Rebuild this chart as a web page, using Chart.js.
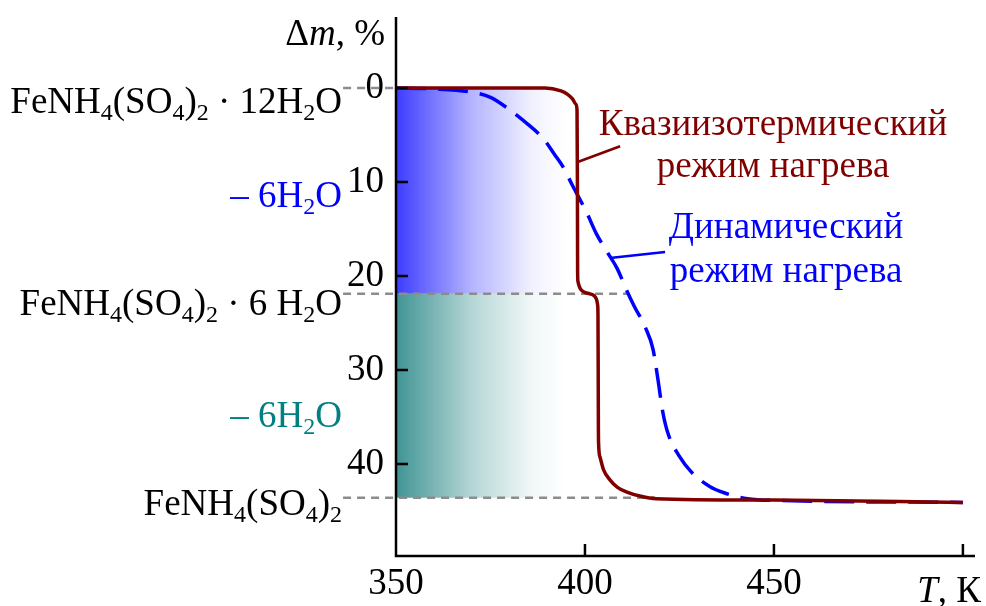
<!DOCTYPE html>
<html>
<head>
<meta charset="utf-8">
<script src="https://cdn.jsdelivr.net/npm/chart.js@4.4.0/dist/chart.umd.min.js"></script>
<style>
  html, body { margin: 0; padding: 0; background: #fff; }
  #wrap { width: 986px; height: 606px; }
</style>
</head>
<body>
<div id="wrap"><canvas id="tg_canvas"></canvas></div>
<script>
// temperature, K / mass loss, %
const tempTicks = [350, 400, 450, 500];
const massTicks = [0, 10, 20, 30, 40];

// quasi-isothermal heating
const quasiT = [350, 370, 389.4, 393.65, 395.4, 396.7, 397.6, 397.9, 398.0, 398.05, 398.15, 398.7, 399.7, 401.3, 402.4, 403.0, 403.35, 403.44, 403.5, 403.55, 403.6, 404.0, 404.9, 406.6, 408.6, 411.1, 414.8, 418.8, 450, 500];
const quasiM = [0, 0, 0, 0.32, 0.68, 1.17, 1.73, 2.34, 10, 19.4, 20.6, 21.3, 21.7, 21.9, 22.1, 22.45, 23.1, 24.1, 30, 36, 37.8, 39.3, 40.6, 41.7, 42.5, 43.0, 43.45, 43.7, 43.85, 44.1];

// dynamic heating
const dynT = [350, 360, 370, 375, 380, 385, 389, 392, 394.2, 396.6, 400.5, 403, 406.1, 408.5, 411, 413, 416, 418, 419.3, 420.6, 422, 425, 428, 433, 437, 443, 452, 500];
const dynM = [0, 0.1, 0.45, 1.0, 2.3, 3.9, 5.4, 7.1, 8.4, 10.3, 13.3, 15.5, 17.6, 19.2, 21.5, 23.2, 25.5, 27.8, 31, 34.5, 36.8, 39.2, 40.8, 42.4, 43.1, 43.7, 43.9, 44.1];

// composition levels (mass loss) and where the guide lines end
const stageLevels = [0, 21.9, 43.6];
const guideStart = 336;
const guideEnd = [350, 411.4, 418.5];
const fadeEnd = [398, 403];

// leader lines to the labels
const quasiLeaderT = [397.9, 409.3];
const quasiLeaderM = [7.9, 6.2];
const dynLeaderT = [406.6, 421.2];
const dynLeaderM = [18.1, 17.45];

const FONT = '"Liberation Serif", "Times New Roman", serif';
const FS = 37;

function pts(xs, ys) {
    return xs.map((x, i) => ({ x: x, y: ys[i] }));
}

function fadeFill(rgb) {
    return function (c) {
        const chart = c.chart;
        const area = chart.chartArea;
        if (!area) return 'rgba(0,0,0,0)';
        const x0 = chart.scales.x.getPixelForValue(350);
        const g = chart.ctx.createLinearGradient(x0, 0, x0 + 170, 0);
        g.addColorStop(0, 'rgba(' + rgb + ',1)');
        g.addColorStop(0.45, 'rgba(' + rgb + ',0.38)');
        g.addColorStop(0.8, 'rgba(' + rgb + ',0.07)');
        g.addColorStop(1, 'rgba(' + rgb + ',0)');
        return g;
    };
}

// text with subscripts / italics: parts = [[text, 'n'|'s'|'i'], ...]
function richText(ctx, parts, x, y, align, color, size) {
    size = size || FS;
    const fontOf = t => (t === 'i' ? 'italic ' : '') + (t === 's' ? Math.round(size * 0.65) : size) + 'px ' + FONT;
    let w = 0;
    parts.forEach(p => { ctx.font = fontOf(p[1]); w += ctx.measureText(p[0]).width; });
    let cx = align === 'right' ? x - w : (align === 'center' ? x - w / 2 : x);
    ctx.fillStyle = color;
    ctx.textAlign = 'left';
    ctx.textBaseline = 'alphabetic';
    parts.forEach(p => {
        ctx.font = fontOf(p[1]);
        ctx.fillText(p[0], cx, p[1] === 's' ? y + size * 0.2 : y);
        cx += ctx.measureText(p[0]).width;
    });
}

const labelsPlugin = {
    id: 'tgLabels',
    afterDraw(chart) {
        const ctx = chart.ctx;
        const xs = chart.scales.x, ys = chart.scales.y;
        const area = chart.chartArea;
        ctx.save();
        // axis lines + inward ticks
        ctx.strokeStyle = '#000';
        ctx.lineWidth = 2.5;
        ctx.beginPath();
        ctx.moveTo(area.left, area.top);
        ctx.lineTo(area.left, area.bottom);
        ctx.lineTo(area.right, area.bottom);
        tempTicks.slice(1).forEach(v => {
            const px = xs.getPixelForValue(v);
            ctx.moveTo(px, area.bottom);
            ctx.lineTo(px, area.bottom - 12);
        });
        massTicks.forEach(v => {
            const py = ys.getPixelForValue(v);
            ctx.moveTo(area.left, py);
            ctx.lineTo(area.left + 12, py);
        });
        ctx.stroke();

        // axis titles
        richText(ctx, [['Δ', 'n'], ['m', 'i'], [', %', 'n']], 385, 45, 'right', '#000');
        richText(ctx, [['T', 'i'], [', К', 'n']], 981, 602, 'right', '#000');

        // compositions
        const lx = 342;
        richText(ctx, [['FeNH', 'n'], ['4', 's'], ['(SO', 'n'], ['4', 's'], [')', 'n'], ['2', 's'], [' · 12H', 'n'], ['2', 's'], ['O', 'n']], lx, 113, 'right', '#000');
        richText(ctx, [['– 6H', 'n'], ['2', 's'], ['O', 'n']], lx, 207, 'right', '#0000ff');
        richText(ctx, [['FeNH', 'n'], ['4', 's'], ['(SO', 'n'], ['4', 's'], [')', 'n'], ['2', 's'], [' · 6 H', 'n'], ['2', 's'], ['O', 'n']], lx, 315, 'right', '#000');
        richText(ctx, [['– 6H', 'n'], ['2', 's'], ['O', 'n']], lx, 427, 'right', '#008080');
        richText(ctx, [['FeNH', 'n'], ['4', 's'], ['(SO', 'n'], ['4', 's'], [')', 'n'], ['2', 's']], lx, 515, 'right', '#000');

        // curve labels
        richText(ctx, [['Квазиизотермический', 'n']], 773, 135, 'center', '#800000');
        richText(ctx, [['режим нагрева', 'n']], 773, 177, 'center', '#800000');
        richText(ctx, [['Динамический', 'n']], 786, 238, 'center', '#0000ff');
        richText(ctx, [['режим нагрева', 'n']], 786, 282, 'center', '#0000ff');
        ctx.restore();
    }
};

const guideSets = stageLevels.map((lvl, i) => ({
    data: pts([guideStart, guideEnd[i]], [lvl, lvl]),
    borderColor: '#8c8c8c',
    borderWidth: 2.5,
    borderDash: [8, 6],
    pointRadius: 0,
    clip: false,
    order: 3
}));

const tgChart = new Chart(document.getElementById('tg_canvas'), {
    type: 'line',
    data: {
        datasets: [
            {
                label: 'Квазиизотермический режим нагрева',
                data: pts(quasiT, quasiM),
                borderColor: '#800000',
                borderWidth: 3.5,
                pointRadius: 0,
                cubicInterpolationMode: 'monotone',
                order: 0
            },
            {
                data: pts(quasiLeaderT, quasiLeaderM),
                borderColor: '#800000',
                borderWidth: 2.5,
                pointRadius: 0,
                order: 0
            },
            {
                label: 'Динамический режим нагрева',
                data: pts(dynT, dynM),
                borderColor: '#0000ff',
                borderWidth: 3.5,
                borderDash: [30, 12],
                pointRadius: 0,
                cubicInterpolationMode: 'monotone',
                order: 1
            },
            {
                data: pts(dynLeaderT, dynLeaderM),
                borderColor: '#0000ff',
                borderWidth: 2.5,
                pointRadius: 0,
                order: 1
            },
            ...guideSets,
            {
                data: pts([350, fadeEnd[0]], [stageLevels[1], stageLevels[1]]),
                borderWidth: 0,
                pointRadius: 0,
                fill: { value: stageLevels[0] },
                backgroundColor: fadeFill('60,60,255'),
                order: 5
            },
            {
                data: pts([350, fadeEnd[1]], [stageLevels[2], stageLevels[2]]),
                borderWidth: 0,
                pointRadius: 0,
                fill: { value: stageLevels[1] },
                backgroundColor: fadeFill('64,148,148'),
                order: 5
            }
        ]
    },
    options: {
        responsive: true,
        maintainAspectRatio: false,
        animation: false,
        layout: {
            padding: { top: 17, right: 11, left: 0, bottom: 0 }
        },
        scales: {
            x: {
                type: 'linear',
                min: 350,
                max: 503.2,
                afterBuildTicks: s => { s.ticks = tempTicks.map(v => ({ value: v })); },
                afterFit: s => { s.height = 50; s.paddingLeft = 0; s.paddingRight = 0; },
                border: { display: false },
                grid: { display: false, drawTicks: false },
                ticks: {
                    color: '#000',
                    padding: 6,
                    font: { family: FONT, size: FS },
                    maxRotation: 0,
                    callback: v => (v === 500 ? '' : v)
                }
            },
            y: {
                type: 'linear',
                reverse: true,
                min: -7.55,
                max: 49.8,
                afterBuildTicks: s => { s.ticks = massTicks.map(v => ({ value: v })); },
                afterFit: s => { s.width = 396; s.paddingTop = 0; s.paddingBottom = 0; },
                border: { display: false },
                grid: { display: false, drawTicks: false },
                ticks: {
                    color: '#000',
                    padding: 12,
                    font: { family: FONT, size: FS }
                }
            }
        },
        plugins: {
            legend: { display: false },
            tooltip: { enabled: false }
        }
    },
    plugins: [labelsPlugin]
});
</script>
</body>
</html>
